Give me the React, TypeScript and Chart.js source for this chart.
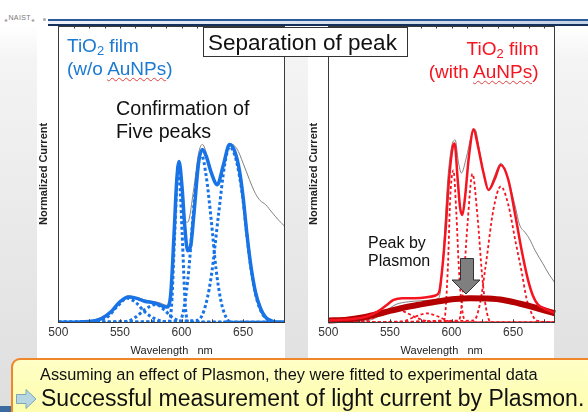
import React, { useEffect, useRef } from 'react';
import { Chart, registerables } from 'chart.js';

Chart.register(...registerables);
Chart.defaults.font.family = '"Liberation Sans", Arial, sans-serif';

// ---------- axis ----------
const X_MIN = 500;
const X_MAX = 684;
const Y_MAX = 1.66;
const tickLabels = [500, 550, 600, 650];

// ---------- left chart: TiO2 film (w/o AuNPs) ----------
const leftExpWl = [500, 520, 530, 540, 548, 557, 565, 575, 582, 588, 591, 594, 597, 599, 602, 605, 610, 614, 617, 622, 627, 630, 634, 639, 645, 650, 655, 660, 664, 668, 674, 679, 684];
const leftExpVal = [0, 0.003, 0.015, 0.05, 0.1, 0.148, 0.135, 0.118, 0.11, 0.095, 0.15, 0.5, 0.85, 0.88, 0.58, 0.56, 0.75, 0.95, 0.995, 0.9, 0.79, 0.775, 0.88, 1.0, 0.97, 0.89, 0.8, 0.72, 0.68, 0.66, 0.61, 0.57, 0.535];

const leftFitWl = [500, 525, 535, 543, 550, 557, 563, 570, 578, 585, 588, 591, 594, 596, 598, 600.5, 602.5, 605, 607.5, 610, 614, 617, 620, 624, 629, 634, 639, 643, 647, 650, 653, 656, 660, 664, 668, 673, 678, 684];
const leftFitVal = [0, 0.005, 0.02, 0.06, 0.115, 0.142, 0.135, 0.118, 0.108, 0.09, 0.085, 0.14, 0.5, 0.78, 0.9, 0.75, 0.55, 0.4, 0.43, 0.6, 0.9, 0.966, 0.93, 0.84, 0.77, 0.88, 0.995, 0.96, 0.85, 0.7, 0.5, 0.33, 0.17, 0.08, 0.03, 0.008, 0, 0];

const leftC1Wl = [500, 530, 540, 548, 556, 563, 570, 577, 585, 595, 684];
const leftC1Val = [0, 0.005, 0.03, 0.09, 0.135, 0.11, 0.06, 0.025, 0.005, 0, 0];
const leftC2Wl = [500, 555, 563, 570, 579, 586, 592, 598, 606, 684];
const leftC2Val = [0, 0.005, 0.03, 0.07, 0.1, 0.07, 0.03, 0.008, 0, 0];
const leftC3Wl = [500, 589, 592, 594.5, 597.5, 600.5, 603, 606, 684];
const leftC3Val = [0, 0, 0.1, 0.5, 0.88, 0.5, 0.1, 0, 0];
const leftC4Wl = [500, 598, 602, 606, 610, 614, 616.5, 620, 624, 628, 632, 636, 641, 684];
const leftC4Val = [0, 0, 0.08, 0.3, 0.65, 0.9, 0.93, 0.82, 0.58, 0.3, 0.12, 0.03, 0, 0];
const leftC5Wl = [500, 612, 618, 624, 630, 635, 639, 643, 647, 650, 653, 656, 660, 664, 668, 673, 684];
const leftC5Val = [0, 0.01, 0.06, 0.25, 0.6, 0.88, 0.98, 0.94, 0.82, 0.68, 0.49, 0.32, 0.16, 0.07, 0.025, 0.005, 0];

// ---------- right chart: TiO2 film (with AuNPs) ----------
const rightExpWl = [500, 530, 540, 548, 555, 565, 575, 585, 590, 593, 597, 600, 603, 605.5, 608, 612, 616, 619, 623, 627, 630, 635, 640, 645, 652, 655, 660, 663, 668, 674, 679, 684];
const rightExpVal = [0, 0.008, 0.03, 0.07, 0.1, 0.115, 0.12, 0.125, 0.14, 0.35, 0.8, 0.98, 1.02, 0.9, 0.835, 0.92, 1.04, 1.08, 0.95, 0.8, 0.74, 0.82, 0.89, 0.82, 0.64, 0.55, 0.5, 0.47, 0.4, 0.33, 0.27, 0.22];

const rightFitWl = [500, 530, 540, 548, 553, 560, 570, 580, 587, 590, 592.5, 595, 598, 601, 602.5, 605, 607, 608.8, 611, 614, 618, 621, 626, 630, 635, 640, 646, 652, 657, 662, 666, 670, 676, 684];
const rightFitVal = [0.01, 0.03, 0.06, 0.1, 0.125, 0.135, 0.135, 0.14, 0.15, 0.17, 0.3, 0.5, 0.8, 0.98, 1.0, 0.8, 0.64, 0.6, 0.7, 0.92, 1.08, 1.0, 0.835, 0.74, 0.8, 0.88, 0.8, 0.59, 0.4, 0.24, 0.15, 0.1, 0.075, 0.05];

const plasmonWl = [500, 515, 530, 545, 560, 575, 590, 603, 615, 628, 642, 655, 669, 684];
const plasmonVal = [0.01, 0.015, 0.03, 0.055, 0.08, 0.1, 0.118, 0.13, 0.135, 0.133, 0.125, 0.105, 0.08, 0.05];

const rightC1Wl = [500, 530, 540, 550, 556, 563, 570, 578, 586, 684];
const rightC1Val = [0, 0.01, 0.035, 0.065, 0.07, 0.055, 0.03, 0.01, 0, 0];
const rightC2Wl = [500, 560, 570, 580, 590, 598, 604, 684];
const rightC2Val = [0, 0.005, 0.03, 0.05, 0.03, 0.005, 0, 0];
const rightC3Wl = [500, 594, 597, 599, 601.5, 604, 606, 608.5, 612, 684];
const rightC3Val = [0, 0.01, 0.3, 0.7, 0.85, 0.6, 0.3, 0.08, 0, 0];
const rightC4Wl = [500, 606, 609, 613, 617, 621, 625, 628, 632, 684];
const rightC4Val = [0, 0.01, 0.15, 0.55, 0.83, 0.6, 0.25, 0.08, 0, 0];
const rightC5Wl = [500, 618, 623, 628, 634, 640, 646, 652, 657, 661, 665, 669, 684];
const rightC5Val = [0, 0.01, 0.1, 0.33, 0.63, 0.76, 0.66, 0.45, 0.28, 0.13, 0.05, 0.01, 0];

// ---------- styles ----------
const FONT = '"Liberation Sans", Arial, sans-serif';
const BLUE = '#1874e6';
const RED = '#f51420';
const DARKRED = '#b40000';
const GRAY = '#808080';

type Series = { wl: number[]; val: number[]; color: string; width: number; dash?: number[]; order: number; noClip?: boolean };

const pts = (wl: number[], val: number[]) => wl.map((x, i) => ({ x, y: val[i] }));

const leftSeries: Series[] = [
  { wl: leftExpWl, val: leftExpVal, color: GRAY, width: 1, order: 9 },
  { wl: leftC1Wl, val: leftC1Val, color: BLUE, width: 3, dash: [3, 2.5], order: 5 },
  { wl: leftC2Wl, val: leftC2Val, color: BLUE, width: 3, dash: [3, 2.5], order: 5 },
  { wl: leftC3Wl, val: leftC3Val, color: BLUE, width: 3, dash: [3, 2.5], order: 5 },
  { wl: leftC4Wl, val: leftC4Val, color: BLUE, width: 3, dash: [3, 2.5], order: 5 },
  { wl: leftC5Wl, val: leftC5Val, color: BLUE, width: 3, dash: [3, 2.5], order: 5 },
  { wl: leftFitWl, val: leftFitVal, color: BLUE, width: 3.5, order: 0 },
];

const rightSeries: Series[] = [
  { wl: rightExpWl, val: rightExpVal, color: GRAY, width: 1, order: 9 },
  { wl: rightC1Wl, val: rightC1Val, color: RED, width: 1.8, dash: [3, 2.5], order: 5 },
  { wl: rightC2Wl, val: rightC2Val, color: RED, width: 1.8, dash: [3, 2.5], order: 5 },
  { wl: rightC3Wl, val: rightC3Val, color: RED, width: 1.8, dash: [3, 2.5], order: 5 },
  { wl: rightC4Wl, val: rightC4Val, color: RED, width: 1.8, dash: [3, 2.5], order: 5 },
  { wl: rightC5Wl, val: rightC5Val, color: RED, width: 1.8, dash: [3, 2.5], order: 5 },
  { wl: plasmonWl, val: plasmonVal, color: DARKRED, width: 6, order: 2, noClip: true },
  { wl: rightFitWl, val: rightFitVal, color: RED, width: 2.5, order: 0 },
];

const framePlugin = {
  id: 'frame',
  afterDatasetsDraw(chart: any) {
    const { ctx, chartArea: a, scales } = chart;
    const x = scales.x;
    ctx.save();
    ctx.strokeStyle = '#3a3a3a';
    ctx.lineWidth = 1;
    ctx.strokeRect(Math.round(a.left) + 0.5, Math.round(a.top) + 0.5, Math.round(a.width) - 1, Math.round(a.height) - 1);
    for (let v = X_MIN + 25; v < X_MAX; v += 25) {
      const px = Math.round(x.getPixelForValue(v)) + 0.5;
      ctx.beginPath();
      ctx.moveTo(px, a.bottom);
      ctx.lineTo(px, a.bottom - 3);
      ctx.stroke();
    }
    for (let v = X_MIN + 12.5; v < X_MAX; v += 12.5) {
      const px = Math.round(x.getPixelForValue(v)) + 0.5;
      ctx.beginPath();
      ctx.moveTo(px, a.top);
      ctx.lineTo(px, a.top + 3);
      ctx.stroke();
    }
    ctx.restore();
  },
};

function SpectrumChart({ left, series }: { left: number; series: Series[] }) {
  const ref = useRef<HTMLCanvasElement>(null);
  useEffect(() => {
    const chart = new Chart(ref.current as HTMLCanvasElement, {
      type: 'line',
      data: {
        datasets: series.map((s) => ({
          data: pts(s.wl, s.val),
          borderColor: s.color,
          borderWidth: s.width,
          borderDash: s.dash || [],
          borderCapStyle: 'butt',
          pointRadius: 0,
          cubicInterpolationMode: 'monotone',
          fill: false,
          order: s.order,
          ...(s.noClip ? { clip: false } : {}),
        })) as any,
      },
      options: {
        animation: false,
        responsive: false,
        events: [],
        layout: { padding: { top: 7.5, right: 5, bottom: 0, left: 0 } },
        plugins: { legend: { display: false }, tooltip: { enabled: false } },
        scales: {
          x: {
            type: 'linear',
            min: X_MIN,
            max: X_MAX,
            grid: { display: false, drawTicks: false },
            border: { display: false },
            ticks: {
              stepSize: 50,
              includeBounds: false,
              autoSkip: false,
              maxRotation: 0,
              padding: 3,
              color: '#333',
              font: { size: 12 },
              callback: (v: any) => (tickLabels.includes(Number(v)) ? String(v) : ''),
            },
            title: { display: true, text: 'Wavelength   nm', color: '#222', font: { size: 11 }, padding: { top: 0, bottom: 5.4 } },
            afterFit: (s: any) => { s.height = 40.7; },
          },
          y: {
            min: 0,
            max: Y_MAX,
            grid: { display: false, drawTicks: false },
            border: { display: false },
            ticks: { display: false },
            title: { display: true, text: 'Normalized Current', color: '#222', font: { size: 11, weight: 'bold' }, padding: { top: 9.4, bottom: 0 } },
            afterFit: (s: any) => { s.width = 30.3; },
          },
        },
      } as any,
      plugins: [framePlugin],
    });
    return () => chart.destroy();
  }, []);
  return (
    <canvas
      ref={ref}
      width={262}
      height={345}
      style={{ position: 'absolute', left, top: 18, width: 262, height: 345 }}
    />
  );
}

// place text so that its first baseline sits at `baseline`
function Txt({ x, baseline, fs, lh, color, children, right, style }: any) {
  const L = lh || fs * 1.2;
  const top = baseline - ((L - 1.117 * fs) / 2 + 0.905 * fs);
  const pos: any = right !== undefined ? { right } : { left: x };
  return (
    <div style={{ position: 'absolute', top, ...pos, fontFamily: FONT, fontSize: fs, lineHeight: `${L}px`, color, whiteSpace: 'pre', textAlign: right !== undefined ? 'right' : 'left', ...style }}>
      {children}
    </div>
  );
}

const Sub = ({ children }: any) => (
  <span style={{ fontSize: '0.68em', position: 'relative', top: '0.28em', lineHeight: 0 }}>{children}</span>
);

const Wavy = ({ children }: any) => (
  <span style={{ textDecorationLine: 'underline', textDecorationStyle: 'wavy', textDecorationColor: '#e04040', textDecorationThickness: '1px', textUnderlineOffset: '2px' }}>{children}</span>
);

export default function App() {
  return (
    <div
      style={{
        position: 'fixed',
        left: 0,
        top: 0,
        width: 588,
        height: 412,
        overflow: 'hidden',
        background: 'linear-gradient(180deg, #ffffff 0px, #ffffff 26px, #f4f4f4 60px, #ebebeb 200px, #dedede 412px)',
        fontFamily: FONT,
      }}
    >
      {/* header */}
      <div style={{ position: 'absolute', left: 4, top: 13, fontSize: 7, color: '#777', letterSpacing: 0.4 }}>⁎NAIST⁎</div>
      <div style={{ position: 'absolute', left: 43, top: 18, width: 3, height: 3, borderRadius: 2, background: '#aaa' }} />
      <div style={{ position: 'absolute', left: 48, top: 19, right: 0, height: 1.5, background: '#2a5a9a' }} />
      <div style={{ position: 'absolute', left: 48, top: 20.5, right: 0, height: 3.5, background: 'linear-gradient(90deg, #eef2f8, #c5d3e6)' }} />
      <div style={{ position: 'absolute', left: 48, top: 24, right: 0, height: 1.5, background: '#15305a' }} />

      {/* white panels */}
      <div style={{ position: 'absolute', left: 37, top: 26, width: 248, height: 332, background: '#fff' }} />
      <div style={{ position: 'absolute', left: 308, top: 26, width: 246, height: 332, background: '#fff' }} />

      <SpectrumChart left={28} series={leftSeries} />
      <SpectrumChart left={298} series={rightSeries} />

      {/* labels */}
      <Txt x={67} baseline={52} fs={19} lh={23.3} color="#1c7ad0">
        TiO<Sub>2</Sub> film{'\n'}(w/o <Wavy>AuNPs</Wavy>)
      </Txt>
      <Txt right={588 - 538.5} baseline={55} fs={19} lh={23.3} color={RED}>
        TiO<Sub>2</Sub> film{'\n'}(with <Wavy>AuNPs</Wavy>)
      </Txt>
      <Txt x={116} baseline={115} fs={19.7} lh={23.3} color="#111">
        {'Confirmation of\nFive peaks'}
      </Txt>
      <Txt x={368} baseline={248.3} fs={16} lh={18.4} color="#111">
        {'Peak by\nPlasmon'}
      </Txt>

      {/* down arrow toward plasmon peak */}
      <svg style={{ position: 'absolute', left: 450, top: 256 }} width={32} height={40}>
        <path d="M10.5 2.5 H23.5 V24 H30 L16 38 L2 24 H10.5 Z" fill="#7f7f7f" stroke="#333" strokeWidth={1} />
      </svg>

      {/* title box */}
      <div style={{ position: 'absolute', left: 202.5, top: 27, width: 205, height: 30, background: '#fff', border: '1px solid #333', boxSizing: 'border-box' }} />
      <Txt x={208} baseline={50.5} fs={22.5} color="#111">Separation of peak</Txt>

      {/* bottom banner */}
      <div style={{ position: 'absolute', left: 0, top: 406, width: 12, height: 6, background: '#3a6aa0' }} />
      <div
        style={{
          position: 'absolute',
          left: 10.5,
          top: 357.5,
          width: 620,
          height: 70,
          borderRadius: 9,
          border: '2px solid #f0862a',
          boxSizing: 'border-box',
          background: 'linear-gradient(180deg, #ffffc6 0%, #fdfda8 100%)',
        }}
      />
      <Txt x={40} baseline={380} fs={16.35} color="#111">Assuming an effect of Plasmon, they were fitted to experimental data</Txt>
      <svg style={{ position: 'absolute', left: 14, top: 388 }} width={24} height={22}>
        <path d="M2.5 6.5 H12 V1.5 L22 11 L12 20.5 V15.5 H2.5 Z" fill="#b6d6e2" stroke="#7ea7b8" strokeWidth={1} />
      </svg>
      <Txt x={41} baseline={406.5} fs={23} color="#111">Successful measurement of light current by Plasmon.</Txt>
    </div>
  );
}
